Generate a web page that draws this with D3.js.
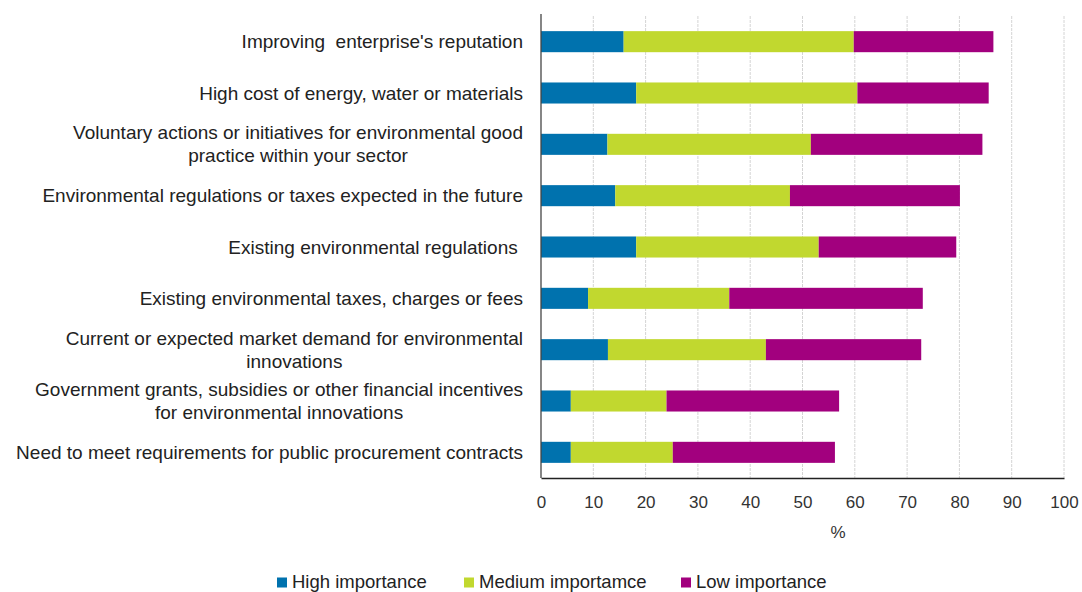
<!DOCTYPE html>
<html>
<head>
<meta charset="utf-8">
<script src="https://cdn.jsdelivr.net/npm/d3@7"></script>
<style>
  html, body { margin: 0; padding: 0; background: #fff; }
  svg { display: block; font-family: "Liberation Sans", Arial, sans-serif; }
  svg text { white-space: pre; }
</style>
</head>
<body>
<svg id="chart" width="1082" height="592"></svg>
<script>
// Reasons for introducing environmental innovations, share of enterprises (%)
const categories = [
  ["Improving  enterprise's reputation"],
  ["High cost of energy, water or materials"],
  ["Voluntary actions or initiatives for environmental good", "practice within your sector"],
  ["Environmental regulations or taxes expected in the future"],
  ["Existing environmental regulations "],
  ["Existing environmental taxes, charges or fees"],
  ["Current or expected market demand for environmental", "innovations"],
  ["Government grants, subsidies or other financial incentives", "for environmental innovations"],
  ["Need to meet requirements for public procurement contracts"]
];
const seriesNames = ["High importance", "Medium importamce", "Low importance"];
const highValues   = [15.8, 18.2, 12.7, 14.2, 18.2, 9.0, 12.8, 5.7, 5.7];
const mediumValues = [44.0, 42.3, 38.9, 33.4, 34.9, 27.0, 30.2, 18.3, 19.5];
const lowValues    = [26.7, 25.1, 32.8, 32.5, 26.3, 37.0, 29.7, 33.0, 31.0];
const xTicks = [0, 10, 20, 30, 40, 50, 60, 70, 80, 90, 100];
const colors = ["#0072AE", "#C1D82F", "#A2007E"];

const svg = d3.select("#chart");
const margin = { left: 541, right: 18, top: 16, bottom: 114 };
const W = 1082, H = 592;

const rows = categories.map((c, i) => ({
  key: i, label: c,
  high: highValues[i], medium: mediumValues[i], low: lowValues[i]
}));

const x = d3.scaleLinear().domain([0, 100]).range([margin.left, W - margin.right]);
const y = d3.scaleBand().domain(rows.map(d => d.key))
  .range([margin.top, H - margin.bottom]).paddingInner(0.59).paddingOuter(0.295);

// vertical dashed gridlines
svg.append("g").selectAll("line")
  .data(xTicks.filter(t => t > 0))
  .join("line")
  .attr("x1", d => x(d)).attr("x2", d => x(d))
  .attr("y1", margin.top).attr("y2", H - margin.bottom)
  .attr("stroke", "#d4d4d4").attr("stroke-width", 1)
  .attr("stroke-dasharray", "3,1");

// stacked bars
const stack = d3.stack().keys(["high", "medium", "low"]);
const layers = stack(rows);
svg.append("g").selectAll("g")
  .data(layers)
  .join("g")
  .attr("fill", (d, i) => colors[i])
  .selectAll("rect")
  .data(d => d)
  .join("rect")
  .attr("x", d => x(d[0]))
  .attr("width", d => x(d[1]) - x(d[0]))
  .attr("y", d => y(d.data.key))
  .attr("height", y.bandwidth());

// x axis
const xAxis = d3.axisBottom(x).tickValues(xTicks).tickSize(0).tickPadding(18);
const gx = svg.append("g").attr("transform", `translate(0,${H - margin.bottom})`).call(xAxis);
gx.select(".domain").attr("stroke", "#222").attr("stroke-width", 1.3);
gx.selectAll("text").attr("font-size", 17).attr("fill", "#333")
  .attr("font-family", "Liberation Sans, Arial, sans-serif");

// y axis line
svg.append("line")
  .attr("x1", margin.left).attr("x2", margin.left)
  .attr("y1", margin.top - 2).attr("y2", H - margin.bottom)
  .attr("stroke", "#444").attr("stroke-width", 1.3);

// category labels; continuation lines are centred under the first line
const lab = svg.append("g").attr("font-size", 19).attr("fill", "#222");
rows.forEach(r => {
  const cy = y(r.key) + y.bandwidth() / 2;
  const n = r.label.length;
  const first = lab.append("text")
    .attr("x", 523).attr("text-anchor", "end")
    .attr("y", cy - (n - 1) / 2 * 23).attr("dy", "0.35em")
    .text(r.label[0]);
  if (n > 1) {
    const bb = first.node().getBBox();
    r.label.slice(1).forEach((line, j) => {
      lab.append("text")
        .attr("x", bb.x + bb.width / 2).attr("text-anchor", "middle")
        .attr("y", cy - (n - 1) / 2 * 23 + (j + 1) * 23).attr("dy", "0.35em")
        .text(line);
    });
  }
});

// "%" axis title
svg.append("text").attr("x", 838).attr("y", 532).attr("dy", "0.35em")
  .attr("text-anchor", "middle").attr("font-size", 17).attr("fill", "#333").text("%");

// legend
const legendX = [277, 464, 681];
const lg = svg.append("g");
seriesNames.forEach((name, i) => {
  lg.append("rect").attr("x", legendX[i]).attr("y", 577.5).attr("width", 10).attr("height", 10).attr("fill", colors[i]);
  lg.append("text").attr("x", legendX[i] + 15).attr("y", 587.5)
    .attr("font-size", 18.5).attr("fill", "#222").text(name);
});
</script>
</body>
</html>
